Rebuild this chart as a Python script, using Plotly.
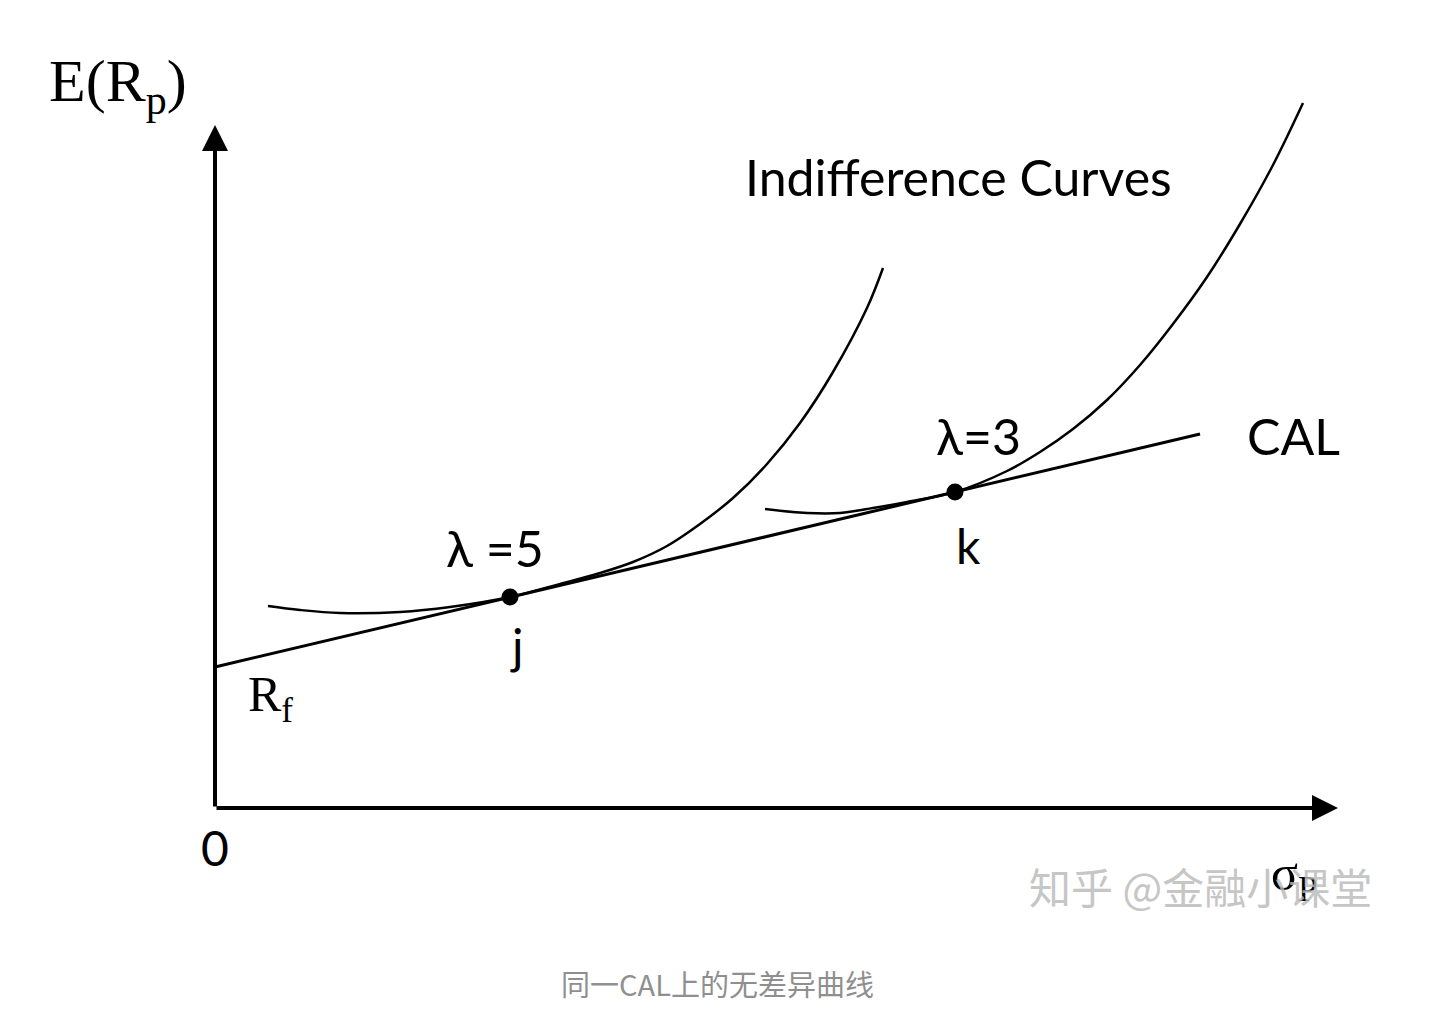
import plotly.graph_objects as go

# --------------------------------------------------
# Data (sigma on x, E(Rp) on y, arbitrary units)
# --------------------------------------------------
cal_x = [0.0, 9.85]
cal_y = [1.41, 3.74]

ic5_x = [0.53, 0.85, 1.25, 1.85, 2.35, 2.95, 3.45, 3.85, 4.18, 4.52, 4.85, 5.18, 5.52, 5.85, 6.18, 6.52, 6.68]
ic5_y = [2.02, 1.98, 1.95, 1.96, 2.01, 2.11, 2.24, 2.35, 2.46, 2.62, 2.84, 3.10, 3.44, 3.85, 4.36, 5.00, 5.40]

ic3_x = [5.50, 5.92, 6.25, 6.58, 6.92, 7.40, 7.92, 8.25, 8.58, 8.92, 9.25, 9.58, 9.92, 10.25, 10.58, 10.88]
ic3_y = [2.99, 2.95, 2.95, 3.00, 3.06, 3.16, 3.37, 3.56, 3.79, 4.08, 4.43, 4.84, 5.31, 5.84, 6.43, 7.05]

opt_x = [2.95, 7.40]
opt_y = [2.11, 3.16]
opt_names = ["j", "k"]

X_MAX = 11.23   # x-axis arrow tip
Y_MAX = 6.83    # y-axis arrow tip

fig = go.Figure()

fig.add_trace(go.Scatter(x=cal_x, y=cal_y, mode="lines",
                         line=dict(color="black", width=3), hoverinfo="skip"))
fig.add_trace(go.Scatter(x=ic5_x, y=ic5_y, mode="lines",
                         line=dict(color="black", width=2.5, shape="spline", smoothing=1.0),
                         hoverinfo="skip"))
fig.add_trace(go.Scatter(x=ic3_x, y=ic3_y, mode="lines",
                         line=dict(color="black", width=2.5, shape="spline", smoothing=1.0),
                         hoverinfo="skip"))
fig.add_trace(go.Scatter(x=opt_x, y=opt_y, mode="markers", text=opt_names,
                         marker=dict(color="black", size=17), hoverinfo="text"))

# axes with arrow heads
arrow = dict(showarrow=True, arrowhead=2, arrowsize=1.3, arrowwidth=4, arrowcolor="black",
             xref="x", yref="y", axref="x", ayref="y", text="")
fig.add_annotation(x=0, y=Y_MAX, ax=0, ay=0, **arrow)
fig.add_annotation(x=X_MAX, y=0, ax=0, ay=0, **arrow)

serif = "Liberation Serif, DejaVu Serif, serif"
sans = "Lato, Open Sans, sans-serif"
cjk = "Noto Sans CJK SC, sans-serif"

labels = [
    (-0.97, 7.23, "E(R<sub>p</sub>)", serif, 60),
    (7.43, 6.31, "Indifference Curves", sans, 50),
    (2.80, 2.60, "λ =5", sans, 50),
    (7.63, 3.72, "λ=3", sans, 50),
    (10.78, 3.72, "CAL", sans, 50),
    (3.02, 1.63, "j", sans, 48),
    (7.53, 2.63, "k", sans, 48),
    (0.55, 1.10, "R<sub>f</sub>", serif, 50),
    (0.0, -0.39, "0", sans, 48),
    (10.79, -0.69, "σ<sub>P</sub>", serif, 50),
]
for lx, ly, txt, fam, size in labels:
    fig.add_annotation(x=lx, y=ly, text=txt, showarrow=False, xref="x", yref="y",
                       font=dict(family=fam, size=size, color="black"))

# watermark and caption
fig.add_annotation(x=9.85, y=-0.77, text="知乎 @金融小课堂", showarrow=False,
                   xref="x", yref="y", opacity=0.8,
                   font=dict(family=cjk, size=42, color="#b8b8b8"))
fig.add_annotation(x=5.02, y=-1.75, text="同一CAL上的无差异曲线", showarrow=False,
                   xref="x", yref="y",
                   font=dict(family=cjk, size=29, color="#8f8f8f"))

fig.update_layout(
    width=1446, height=1014,
    margin=dict(l=0, r=0, t=0, b=0),
    plot_bgcolor="white", paper_bgcolor="white",
    showlegend=False,
    xaxis=dict(range=[-2.07, 12.39], visible=False, fixedrange=True),
    yaxis=dict(range=[-2.14, 8.00], visible=False, fixedrange=True),
)

fig.write_html("out.html")
